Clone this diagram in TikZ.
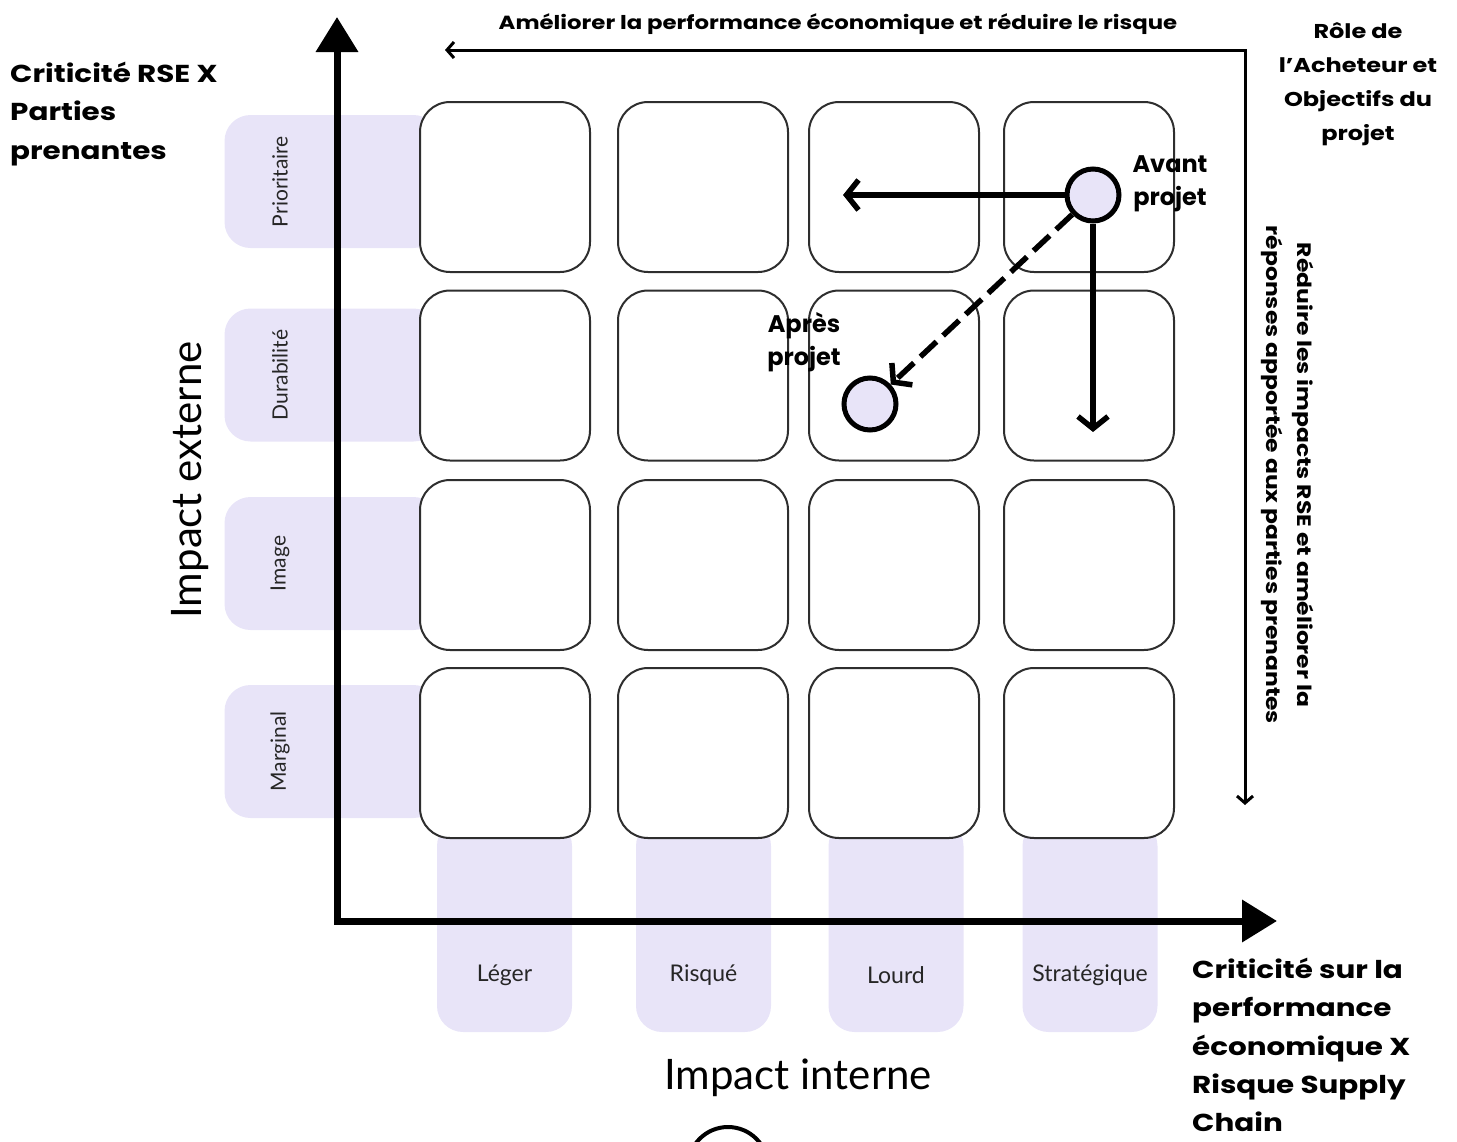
\documentclass[tikz,border=0pt]{standalone}
\usepackage{fontspec}
\setmainfont{Poppins}
\newfontfamily\widefont{Poppins}[FakeStretch=1.2]
\newfontfamily\labfont{Lato}
\usetikzlibrary{arrows.meta}
\definecolor{lav}{HTML}{E8E4F8}
\definecolor{edge}{HTML}{2E2E2E}

\begin{document}
\begin{tikzpicture}[x=1pt,y=-1pt,
  cell/.style={draw=edge, line width=2pt, fill=white, rounded corners=30pt,
    minimum width=170pt, minimum height=170pt, inner sep=0pt},
  rowtag/.style={fill=lav, rounded corners=26pt, minimum width=215pt,
    minimum height=133pt, inner sep=0pt},
  coltag/.style={fill=lav, rounded corners=26pt, minimum width=135pt,
    minimum height=212pt, inner sep=0pt},
  rowlabel/.style={font=\labfont\fontsize{21}{24}\selectfont, text=black!85},
  collabel/.style={font=\labfont\fontsize{23}{26}\selectfont, text=black!85},
  axislabel/.style={font=\labfont\fontsize{42}{48}\selectfont},
  spot/.style={font=\bfseries\fontsize{24}{33}\selectfont, align=center},
  headl/.style={font=\widefont\bfseries\fontsize{24.5}{38.3}\selectfont, align=left, anchor=north west, inner sep=0pt},
  axis/.style={line width=7pt, {Triangle[width=41pt,length=35pt]}-{Triangle[width=41pt,length=35pt]}},
  guide/.style={line width=3pt, {Straight Barb[length=7pt,width=16pt]}-{Straight Barb[length=7pt,width=16pt]}},
  move/.style={line width=5.5pt, -{Straight Barb[length=12pt,width=30pt]}},
  dot/.style={circle, draw=black, line width=5pt, fill=lav, minimum size=52pt, inner sep=0pt},
]
\useasboundingbox (0,0) rectangle (1457,1141);
\clip (0,0) rectangle (1457,1141);

% lavender tags behind the grid: rows (left) and columns (bottom)
\foreach \n/\y/\t in {1/181.5/Prioritaire, 2/375/Durabilité, 3/563.5/Image, 4/751.5/Marginal}{
  \node[rowtag] (rt\n) at (332,\y) {};
  \node[rowlabel, rotate=90] (rl\n) at (280,\y) {\t};
}
\foreach \n/\x/\t in {1/504.5/Léger, 2/703.5/Risqué, 3/896/Lourd, 4/1090/Stratégique}{
  \node[coltag] (ct\n) at (\x,926) {};
  \node[collabel] (cl\n) at (\x,975) {\t};
}

% 4 x 4 grid of rounded cells
\foreach \r/\y in {1/187, 2/375.5, 3/565, 4/753}{
  \foreach \c/\x in {1/505, 2/703, 3/894, 4/1089}{
    \node[cell] (c\r\c) at (\x,\y) {};
  }
}

% main axes
\coordinate (ytop) at (337,17);
\coordinate (origin) at (337,921);
\coordinate (xend) at (1277,921);
\draw[axis] (ytop) -- (origin) -- (xend);

% buyer-role guide lines
\coordinate (gleft) at (445,50);
\coordinate (gcorner) at (1245,50);
\coordinate (gdown) at (1245,805);
\draw[guide] (gleft) -- (gcorner) -- (gdown);

% project positions
\node[dot] (avant) at (1093,195) {};
\node[dot] (apres) at (870,404) {};
\coordinate (leftend) at (843,195);
\coordinate (downend) at (1093,432);
\draw[move] (avant.west) -- (leftend);
\draw[move] (avant.south) -- (downend);
\draw[move, dash pattern=on 22pt off 9pt] (avant) -- (apres);

\node[spot] (avtxt) at (1170,184) {Avant\\projet};
\node[spot] (aptxt) at (804,342) {Après\\projet};

% titles and captions
\node[font=\widefont\bfseries\fontsize{19}{24}\selectfont] (toptxt) at (838,24) {Améliorer la performance économique et réduire le risque};
\node[font=\widefont\bfseries\fontsize{20}{34}\selectfont, align=center] (role) at (1358,84)
  {Rôle de\\l’Acheteur et\\Objectifs du\\projet};
\node[font=\widefont\bfseries\fontsize{19.5}{31}\selectfont, align=center, rotate=-90] (reduce) at (1288,475)
  {Réduire les impacts RSE et améliorer la\\réponses apportée aux parties prenantes};
\node[headl] (ytitle) at (10,62) {Criticité RSE X\\Parties\\prenantes};
\node[headl] (xtitle) at (1192,958) {Criticité sur la\\performance\\économique X\\Risque Supply\\Chain};

\node[axislabel, rotate=90] (yaxis) at (190,480) {Impact externe};
\node[axislabel] (xaxis) at (798,1078) {Impact interne};

% partly visible round marker at the bottom edge
\node[circle, draw=black, line width=4pt, minimum size=80pt, inner sep=0pt] (knob) at (728,1167) {};
\end{tikzpicture}
\end{document}
